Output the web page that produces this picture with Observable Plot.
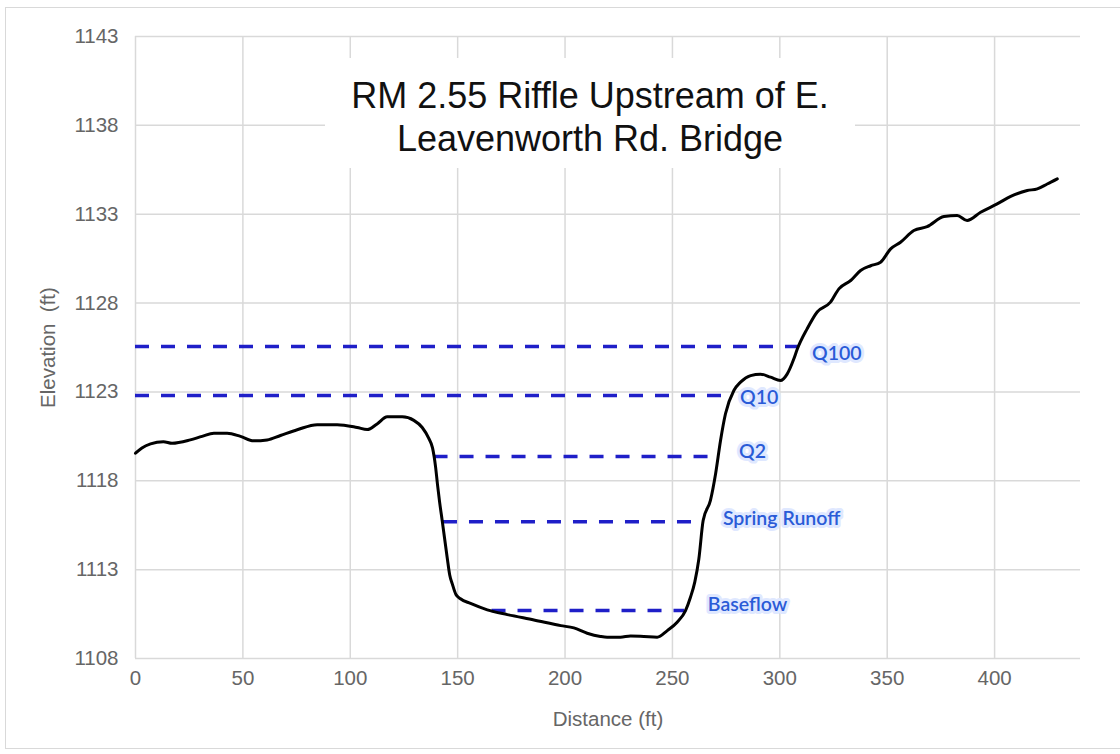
<!DOCTYPE html>
<html><head><meta charset="utf-8">
<script src="https://cdn.jsdelivr.net/npm/d3@7"></script>
<script src="https://cdn.jsdelivr.net/npm/@observablehq/plot@0.6"></script>
<style>
body{margin:0;background:#fff;}
#wrap{position:relative;width:1120px;height:754px;overflow:hidden;background:#fff;}
#border{position:absolute;left:5px;top:7px;width:1130px;height:742px;border:1.5px solid #d9d9d9;box-sizing:border-box;}
#chart{position:absolute;left:0;top:0;}
#title{position:absolute;left:325px;top:58px;width:530px;height:110px;background:#fff;font-family:"Liberation Sans",Arial,sans-serif;font-size:36px;color:#111;text-align:center;line-height:43px;padding-top:16px;box-sizing:border-box;}
</style>
</head><body>
<div id="wrap"><div id="border"></div><div id="chart"></div><div id="title">RM 2.55 Riffle Upstream of E.<br>Leavenworth Rd. Bridge</div></div>
<script>
// Ground profile
const distance = [0,3,7,13,17,25.5,31,36.5,42.7,48.9,55,61.3,67.5,75.3,84.6,93.9,103.2,107.9,112.5,117.2,124.2,129.6,133.5,136.5,138.3,139.7,140.6,141.6,142.8,145.1,146.3,147.5,149.2,151.3,156,163.8,173.1,185.5,198,204.1,210.3,216.5,219.6,225.8,230.5,236.7,242.9,247.6,252.2,256.1,258.4,260.4,262.3,264.3,267.7,270.1,272.4,274.7,278.6,281.7,286.4,291,295.7,300.3,303.4,306.5,308.1,312.7,317.4,323.6,327.5,333,337.6,342.3,346.9,351.6,356.2,362.4,368.6,376.4,382.6,387.2,393.5,401.2,407.5,415.2,419.9,424.5,429.2];
const elevation = [1119.55,1119.85,1120.08,1120.2,1120.11,1120.3,1120.5,1120.68,1120.68,1120.5,1120.25,1120.3,1120.55,1120.87,1121.16,1121.16,1121.0,1120.88,1121.2,1121.6,1121.6,1121.4,1121.0,1120.4,1119.85,1118.8,1117.8,1116.8,1115.76,1113.7,1112.7,1112.2,1111.6,1111.36,1111.1,1110.74,1110.47,1110.17,1109.85,1109.72,1109.42,1109.24,1109.2,1109.2,1109.27,1109.24,1109.2,1109.57,1110.04,1110.7,1111.45,1112.3,1113.6,1115.76,1116.9,1118.4,1120.27,1121.77,1123.08,1123.55,1123.92,1124.0,1123.83,1123.64,1124.0,1124.85,1125.4,1126.55,1127.5,1128.05,1128.8,1129.27,1129.83,1130.1,1130.3,1131.05,1131.42,1132.08,1132.3,1132.87,1132.93,1132.65,1133.11,1133.58,1134.0,1134.33,1134.43,1134.7,1134.99];

// Water surface levels
const levelNames = ["Q100","Q10","Q2","Spring Runoff","Baseflow"];
const levelElev  = [1125.55,1122.8,1119.36,1115.7,1110.7];
const levelStart = [0,0,139,143.4,166];
const levelEnd   = [308.5,276,268.6,260,255.8];
const labelX     = [315,281.5,281,273.5,266.5];
const labelY     = [1125.15,1122.68,1119.65,1115.88,1111.05];

const xTicks = [0,50,100,150,200,250,300,350,400];
const yTicks = [1108,1113,1118,1123,1128,1133,1138,1143];

const profile = distance.map((d,i)=>({x:d, y:elevation[i]}));
const levels = levelNames.map((n,i)=>({name:n, elev:levelElev[i], x1:levelStart[i], x2:levelEnd[i], lx:labelX[i], ly:labelY[i]}));

const grid = "#d9d9d9";
const tickColor = "#666666";

const chart = Plot.plot({
  width: 1120,
  height: 754,
  marginLeft: 135,
  marginRight: 40,
  marginTop: 36,
  marginBottom: 96,
  style: {fontFamily: "'Liberation Sans', Arial, sans-serif", background: "transparent"},
  x: {domain: [0, 440]},
  y: {domain: [1108, 1143]},
  marks: [
    Plot.gridX(xTicks, {stroke: grid, strokeOpacity: 1, strokeWidth: 1.5}),
    Plot.gridY(yTicks, {stroke: grid, strokeOpacity: 1, strokeWidth: 1.5}),
    Plot.axisX(xTicks, {tickSize: 0, tickPadding: 12, fontSize: 20.5, fill: tickColor, tickFormat: d => String(d),
      label: "Distance (ft)", labelAnchor: "center", labelOffset: 67, labelArrow: "none"}),
    Plot.axisY(yTicks, {tickSize: 0, tickPadding: 17, fontSize: 20.5, fill: tickColor, tickFormat: d => String(d),
      label: "Elevation  (ft)", labelAnchor: "center", labelOffset: 95, labelArrow: "none"}),
    Plot.ruleY(levels, {y: "elev", x1: "x1", x2: "x2", stroke: "#1f1fc8", strokeWidth: 3.5, strokeDasharray: "14,12"}),
    Plot.line(profile, {x: "x", y: "y", stroke: "#000", strokeWidth: 3, curve: "monotone-x"}),
    Plot.text(levels, {x: "lx", y: "ly", text: "name", textAnchor: "start", fill: "#2a5bd7",
      stroke: "#dfe8ff", strokeWidth: 6, fontSize: 19.5, fontFamily: "Lato, 'Open Sans', sans-serif", fontWeight: 600})
  ]
});
document.getElementById("chart").appendChild(chart);
</script>
</body></html>
